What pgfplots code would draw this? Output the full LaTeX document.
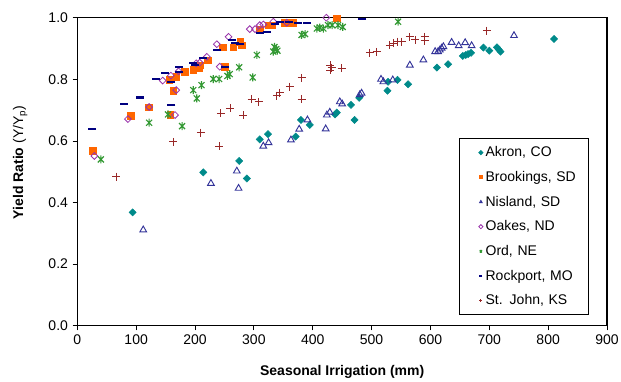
\documentclass[border=0pt]{standalone}
\usepackage{fontspec}
\setmainfont{Liberation Sans}
\usepackage{pgfplots}
\pgfplotsset{compat=1.18}
\definecolor{cakron}{RGB}{0,138,138}
\definecolor{cbrook}{RGB}{255,102,0}
\definecolor{cnis}{RGB}{51,51,153}
\definecolor{coakes}{RGB}{153,51,170}
\definecolor{cord}{RGB}{51,153,51}
\definecolor{crock}{RGB}{0,0,128}
\definecolor{cjohn}{RGB}{153,40,40}
\pgfdeclareplotmark{xstar}{%
  \pgfpathmoveto{\pgfqpoint{0pt}{\pgfplotmarksize}}%
  \pgfpathlineto{\pgfqpoint{0pt}{-\pgfplotmarksize}}%
  \pgfpathmoveto{\pgfqpoint{-0.75\pgfplotmarksize}{0.75\pgfplotmarksize}}%
  \pgfpathlineto{\pgfqpoint{0.75\pgfplotmarksize}{-0.75\pgfplotmarksize}}%
  \pgfpathmoveto{\pgfqpoint{-0.75\pgfplotmarksize}{-0.75\pgfplotmarksize}}%
  \pgfpathlineto{\pgfqpoint{0.75\pgfplotmarksize}{0.75\pgfplotmarksize}}%
  \pgfusepathqstroke}
\begin{document}
\begin{tikzpicture}
\begin{axis}[
  at={(0,0)}, anchor=south west,
  scale only axis, width=397.3pt, height=231pt,
  xmin=0, xmax=900, ymin=0, ymax=1,
  xtick={0,100,200,300,400,500,600,700,800,900},
  ytick={0,0.2,0.4,0.6,0.8,1},
  yticklabel style={/pgf/number format/.cd,fixed,fixed zerofill,precision=1},
  /pgf/number format/assume math mode=true,
  tick align=outside, tick pos=left,
  major tick length=3.5pt,
  tick style={black, line width=0.6pt},
  axis line style={line width=0.8pt},
  ticklabel style={font=\fontsize{10.5}{12}\selectfont},
  xlabel={\bfseries Seasonal Irrigation (mm)},
  ylabel={{\bfseries Yield Ratio} (Y/Y\textsubscript{p})},
  label style={font=\fontsize{10.5}{12}\selectfont},
  xlabel style={at={(axis description cs:0.5,-0.149)}, anchor=center},
  ylabel style={at={(axis description cs:-0.108,0.53)}, anchor=center},
  legend style={at={(0.7206,0.609)}, anchor=north west, draw=black, line width=0.6pt,
    font=\fontsize{10.5}{12}\selectfont, row sep=5.4pt, inner xsep=3pt, inner ysep=4pt,
    nodes={text width=72pt, inner xsep=2pt}},
  legend cell align=left,
  legend image code/.code={\path (0,0); \draw[#1, mark size=1.1pt] plot coordinates {(0.45cm,0cm)};},
]
\addplot[only marks, mark=square*, mark options={rotate=45, fill=cakron, draw=cakron}, mark size=1.9pt] table {
94 0.368
214 0.498
275 0.535
288 0.478
310 0.605
324 0.622
371 0.614
380 0.668
395 0.652
438 0.686
441 0.692
465 0.717
471 0.668
479 0.740
527 0.763
528 0.792
544 0.798
562 0.784
611 0.838
630 0.849
655 0.876
660 0.879
664 0.882
669 0.886
690 0.903
700 0.893
713 0.904
716 0.897
719 0.890
810 0.931
};
\addlegendentry{Akron, CO}
\addplot[only marks, mark=square*, mark options={fill=cbrook, draw=cbrook}, mark size=2.5pt] table {
26 0.568
91 0.682
121 0.709
156 0.798
163 0.762
158 0.684
168 0.808
182 0.825
197 0.830
207 0.836
209 0.846
222 0.862
251 0.841
247 0.904
265 0.904
279 0.911
277 0.922
310 0.960
325 0.976
330 0.976
352 0.983
366 0.983
441 0.998
};
\addlegendentry{Brookings, SD}
\addplot[only marks, mark=triangle, mark options={draw=cnis, line width=0.7pt}, mark size=2.9pt] table {
112 0.311
227 0.462
271 0.502
274 0.446
316 0.583
325 0.594
363 0.603
377 0.638
391 0.668
422 0.639
424 0.684
429 0.693
446 0.727
450 0.720
480 0.750
483 0.755
516 0.800
520 0.792
536 0.798
565 0.846
588 0.863
608 0.890
613 0.890
616 0.895
619 0.901
622 0.906
636 0.920
648 0.909
659 0.919
670 0.909
742 0.942
};
\addlegendentry{Nisland, SD}
\addplot[only marks, mark=square, mark options={rotate=45, draw=coakes, line width=0.6pt}, mark size=1.8pt] table {
29 0.551
86 0.671
122 0.710
145 0.796
159 0.812
168 0.765
166 0.684
172 0.826
202 0.852
208 0.854
220 0.873
237 0.914
242 0.841
257 0.938
293 0.963
302 0.963
310 0.976
316 0.978
333 0.987
356 0.984
423 1.000
};
\addlegendentry{Oakes, ND}
\addplot[only marks, mark=xstar, mark options={draw=cord, line width=0.85pt}, mark size=3pt] table {
40 0.540
122 0.659
154 0.686
178 0.648
197 0.765
203 0.738
211 0.781
231 0.801
241 0.801
255 0.811
259 0.817
275 0.839
298 0.806
305 0.879
333 0.890
335 0.905
338 0.898
340 0.893
381 0.944
387 0.947
407 0.965
412 0.968
418 0.965
426 0.976
433 0.976
443 0.976
451 0.970
545 0.987
};
\addlegendentry{Ord, NE}
\addplot[only marks, mark=-, mark options={draw=crock, line width=1.6pt}, mark size=3pt] table {
25 0.639
79 0.720
106 0.741
134 0.800
149 0.821
159 0.792
160 0.716
172 0.839
172 0.825
197 0.852
200 0.846
214 0.868
238 0.896
251 0.839
262 0.928
268 0.917
277 0.914
310 0.951
322 0.955
336 0.981
345 0.985
360 0.987
375 0.983
390 0.982
484 0.995
};
\addlegendentry{Rockport, MO}
\addplot[only marks, mark=+, mark options={draw=cjohn, line width=0.7pt}, mark size=3pt] table {
66 0.484
163 0.597
210 0.627
241 0.583
244 0.690
260 0.706
282 0.684
296 0.736
308 0.727
339 0.747
344 0.757
361 0.776
381 0.805
381 0.736
430 0.830
430 0.846
432 0.838
449 0.836
497 0.887
509 0.889
531 0.911
537 0.918
544 0.922
551 0.922
565 0.938
574 0.928
590 0.925
590 0.938
696 0.958
};
\addlegendentry{St. John, KS}
\end{axis}
\pgfresetboundingbox
\path[use as bounding box] (-58pt,-41.5pt) rectangle (407.8pt,244.3pt);
\end{tikzpicture}
\end{document}
